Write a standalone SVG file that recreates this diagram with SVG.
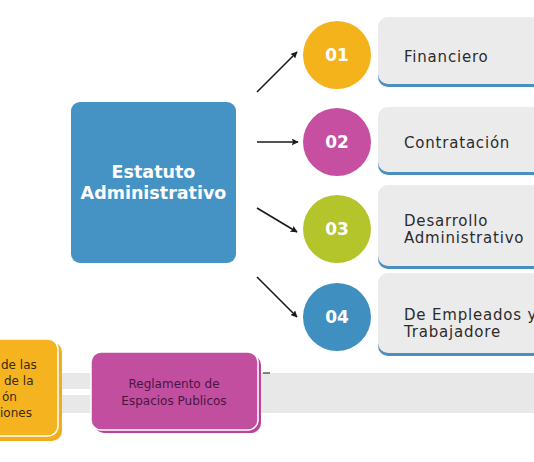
<svg xmlns="http://www.w3.org/2000/svg" width="534" height="462" viewBox="0 0 534 462">
<defs>
<marker id="ah" viewBox="0 0 10 10" refX="9" refY="5" markerWidth="7" markerHeight="7" markerUnits="userSpaceOnUse" orient="auto">
<path d="M0,0 L10,5 L0,10 L2,5 Z" fill="#1a1a1a"/>
</marker>
<style>
.num{font-family:"DejaVu Sans",sans-serif;font-weight:bold;font-size:17px;fill:#ffffff;text-anchor:middle}
.lbl{font-family:"DejaVu Sans",sans-serif;font-size:15px;fill:#2b2b2b;letter-spacing:0.8px}
.card{fill:#ebebeb}
.under{fill:#4a8fbf}
.conn{stroke:#1a1a1a;stroke-width:1.6;fill:none;marker-end:url(#ah)}
.small{font-family:"DejaVu Sans",sans-serif;font-size:12px}
</style>
</defs>
<rect width="534" height="462" fill="#ffffff"/>

<g id="band">
<rect x="0" y="373" width="534" height="40" fill="#e8e8e8"/>
<line x1="263" y1="373" x2="270" y2="373" stroke="#333" stroke-width="1.2"/>
</g>

<g id="estatuto">
<rect x="71" y="102" width="165" height="161" rx="9" fill="#4592c4"/>
<text x="153.5" y="178" text-anchor="middle" font-family="DejaVu Sans, sans-serif" font-weight="bold" font-size="17.5" fill="#ffffff">Estatuto</text>
<text x="153.5" y="199" text-anchor="middle" font-family="DejaVu Sans, sans-serif" font-weight="bold" font-size="17.5" fill="#ffffff">Administrativo</text>
</g>

<g id="connectors">
<line class="conn" x1="257" y1="92" x2="297" y2="52"/>
<line class="conn" x1="257" y1="142" x2="298" y2="142"/>
<line class="conn" x1="257" y1="208" x2="297" y2="232"/>
<line class="conn" x1="257" y1="277" x2="297" y2="317"/>
<path d="M55,392 L110,392 M94,382 L110,392 L94,402" stroke="#ffffff" stroke-width="6" fill="none" stroke-linecap="round" stroke-linejoin="round"/>
</g>

<g id="item01">
<circle cx="337" cy="55" r="34" fill="#f4b31b"/>
<text class="num" x="337" y="61">01</text>
<rect class="under" x="378" y="20" width="170" height="67" rx="10"/>
<rect class="card" x="378" y="17" width="170" height="67" rx="10"/>
<text class="lbl" x="404" y="62">Financiero</text>
</g>

<g id="item02">
<circle cx="337" cy="142" r="34" fill="#c64fa1"/>
<text class="num" x="337" y="148">02</text>
<rect class="under" x="378" y="110" width="170" height="65" rx="10"/>
<rect class="card" x="378" y="107" width="170" height="65" rx="10"/>
<text class="lbl" x="404" y="148">Contratación</text>
</g>

<g id="item03">
<circle cx="337" cy="229" r="34" fill="#b4c52b"/>
<text class="num" x="337" y="235">03</text>
<rect class="under" x="378" y="188" width="170" height="81" rx="10"/>
<rect class="card" x="378" y="185" width="170" height="81" rx="10"/>
<text class="lbl" x="404" y="226">Desarrollo</text>
<text class="lbl" x="404" y="243">Administrativo</text>
</g>

<g id="item04">
<circle cx="337" cy="317" r="34" fill="#3f8fc1"/>
<text class="num" x="337" y="323">04</text>
<rect class="under" x="378" y="276" width="170" height="80" rx="10"/>
<rect class="card" x="378" y="273" width="170" height="80" rx="10"/>
<text class="lbl" x="404" y="320">De Empleados y</text>
<text class="lbl" x="404" y="337">Trabajadore</text>
</g>

<g id="yellow-box">
<rect x="-40" y="342" width="102" height="99" rx="10" fill="#f1ad1b"/>
<rect x="-40" y="339" width="98" height="97" rx="10" fill="#f5b320" stroke="#ffffff" stroke-width="1.5"/>
<text class="small" fill="#3a2a10" x="1" y="369">de las</text>
<text class="small" fill="#3a2a10" x="4" y="385">de la</text>
<text class="small" fill="#3a2a10" x="2" y="401">ón</text>
<text class="small" fill="#3a2a10" x="0" y="417">iones</text>
</g>

<g id="reglamento">
<rect x="94" y="355" width="167" height="78" rx="10" fill="#b8449a"/>
<rect x="91" y="352" width="167" height="78" rx="10" fill="#c24ea0" stroke="#ffffff" stroke-width="1.5"/>
<text class="small" fill="#4a1540" x="174" y="388" text-anchor="middle">Reglamento de</text>
<text class="small" fill="#4a1540" x="174" y="405" text-anchor="middle">Espacios Publicos</text>
</g>
</svg>
